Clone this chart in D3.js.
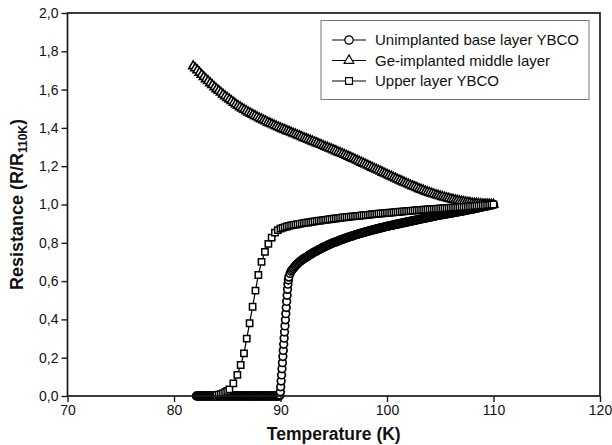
<!DOCTYPE html>
<html><head><meta charset="utf-8">
<script src="https://cdn.jsdelivr.net/npm/d3@7"></script>
<style>
body{margin:0;background:#fff}
svg{display:block}
text{font-family:"Liberation Sans",Arial,Helvetica,sans-serif;fill:#111}
</style>
</head><body>
<svg id="chart" width="612" height="445"></svg>
<script>
// ---------------- DATA ----------------
const xTicks = [70, 80, 90, 100, 110, 120];
const xTickLabels = ["70", "80", "90", "100", "110", "120"];
const yTicks = [0, 0.2, 0.4, 0.6, 0.8, 1.0, 1.2, 1.4, 1.6, 1.8, 2.0];
const yTickLabels = ["0,0", "0,2", "0,4", "0,6", "0,8", "1,0", "1,2", "1,4", "1,6", "1,8", "2,0"];
const seriesNames = ["Unimplanted base layer YBCO", "Ge-implanted middle layer", "Upper layer YBCO"];

// Unimplanted base layer YBCO (circles)
const circleT = [
  82.1,82.2,82.3,82.4,82.5,82.6,82.7,82.8,82.9,
  83.0,83.1,83.2,83.3,83.4,83.5,83.6,83.7,83.8,83.9,
  84.0,84.1,84.2,84.3,84.4,84.5,84.6,84.7,84.8,84.9,
  85.0,85.1,85.2,85.3,85.4,85.5,85.6,85.7,85.8,85.9,
  86.0,86.1,86.2,86.3,86.4,86.5,86.6,86.7,86.8,86.9,
  87.0,87.1,87.2,87.3,87.4,87.5,87.6,87.7,87.8,87.9,
  88.0,88.1,88.2,88.3,88.4,88.5,88.6,88.7,88.8,88.9,
  89.0,89.1,89.2,89.3,89.4,89.5,89.6,89.7,89.8,89.9,
  89.94,89.98,90.02,90.06,90.10,90.14,90.18,90.22,90.26,90.30,
  90.34,90.38,90.42,90.46,90.50,90.54,90.58,90.62,90.66,90.70,90.74,90.78,
  90.9,91.0,
  91.1,91.2,91.3,91.4,91.5,91.6,91.7,91.8,91.9,92.0,
  92.1,92.2,92.3,92.4,92.5,92.6,92.7,92.8,92.9,93.0,
  93.1,93.2,93.3,93.4,93.5,93.6,93.7,93.8,93.9,94.0,
  94.1,94.2,94.3,94.4,94.5,94.6,94.7,94.8,94.9,95.0,
  95.1,95.2,95.3,95.4,95.5,95.6,95.7,95.8,95.9,96.0,
  96.1,96.2,96.3,96.4,96.5,96.6,96.7,96.8,96.9,97.0,
  97.1,97.2,97.3,97.4,97.5,97.6,97.7,97.8,97.9,98.0,
  98.1,98.2,98.3,98.4,98.5,98.6,98.7,98.8,98.9,99.0,
  99.1,99.2,99.3,99.4,99.5,99.6,99.7,99.8,99.9,100.0,
  100.1,100.2,100.3,100.4,100.5,100.6,100.7,100.8,100.9,101.0,
  101.1,101.2,101.3,101.4,101.5,101.6,101.7,101.8,101.9,102.0,
  102.1,102.2,102.3,102.4,102.5,102.6,102.7,102.8,102.9,103.0,
  103.1,103.2,103.3,103.4,103.5,103.6,103.7,103.8,103.9,104.0,
  104.1,104.2,104.3,104.4,104.5,104.6,104.7,104.8,104.9,105.0,
  105.1,105.2,105.3,105.4,105.5,105.6,105.7,105.8,105.9,106.0,
  106.1,106.2,106.3,106.4,106.5,106.6,106.7,106.8,106.9,107.0,
  107.1,107.2,107.3,107.4,107.5,107.6,107.7,107.8,107.9,108.0,
  108.1,108.2,108.3,108.4,108.5,108.6,108.7,108.8,108.9,109.0,
  109.1,109.2,109.3,109.4,109.5,109.6,109.7,109.8,109.9,110.0
];
const circleR = [
  0,0,0,0,0,0,0,0,0,
  0,0,0,0,0,0,0,0,0,0,
  0,0,0,0,0,0,0,0,0,0,
  0,0,0,0,0,0,0,0,0,0,
  0,0,0,0,0,0,0,0,0,0,
  0,0,0,0,0,0,0,0,0,0,
  0,0,0,0,0,0,0,0,0,0,
  0,0,0,0,0,0,0,0,0,0,
  0.005,0.022,0.048,0.078,0.110,0.142,0.174,0.206,0.238,0.270,
  0.302,0.334,0.366,0.398,0.430,0.462,0.494,0.526,0.557,0.584,0.606,0.621,
  0.640,0.652,
  0.659,0.666,0.673,0.680,0.686,0.691,0.696,0.701,0.705,0.710,
  0.714,0.717,0.721,0.724,0.728,0.732,0.735,0.739,0.742,0.746,
  0.749,0.752,0.755,0.758,0.761,0.764,0.767,0.770,0.773,0.776,
  0.779,0.781,0.784,0.786,0.789,0.791,0.794,0.796,0.799,0.801,
  0.803,0.805,0.807,0.809,0.812,0.814,0.816,0.818,0.820,0.822,
  0.824,0.826,0.828,0.830,0.832,0.833,0.835,0.837,0.839,0.841,
  0.843,0.844,0.846,0.847,0.849,0.851,0.852,0.854,0.855,0.857,
  0.859,0.860,0.862,0.863,0.865,0.866,0.868,0.869,0.871,0.872,
  0.873,0.875,0.876,0.878,0.879,0.880,0.882,0.883,0.885,0.886,
  0.887,0.888,0.890,0.891,0.892,0.893,0.894,0.896,0.897,0.898,
  0.899,0.900,0.902,0.903,0.904,0.905,0.906,0.908,0.909,0.910,
  0.911,0.912,0.914,0.915,0.916,0.917,0.918,0.920,0.921,0.922,
  0.923,0.924,0.926,0.927,0.928,0.929,0.930,0.932,0.933,0.934,
  0.935,0.936,0.937,0.938,0.940,0.941,0.942,0.943,0.944,0.945,
  0.946,0.947,0.948,0.949,0.950,0.951,0.952,0.953,0.954,0.955,
  0.956,0.957,0.958,0.959,0.960,0.961,0.962,0.963,0.964,0.965,
  0.966,0.967,0.968,0.969,0.971,0.972,0.973,0.974,0.975,0.976,
  0.977,0.978,0.980,0.981,0.982,0.983,0.984,0.986,0.987,0.988,
  0.989,0.990,0.992,0.993,0.994,0.995,0.996,0.998,0.999,1.000
];

// Ge-implanted middle layer (triangles)
const triangleT = [
  81.8,82.0,
  82.2,82.4,82.6,82.8,83.0,
  83.2,83.4,83.6,83.8,84.0,
  84.2,84.4,84.6,84.8,85.0,
  85.2,85.4,85.6,85.8,86.0,
  86.2,86.4,86.6,86.8,87.0,
  87.2,87.4,87.6,87.8,88.0,
  88.2,88.4,88.6,88.8,89.0,
  89.2,89.4,89.6,89.8,90.0,
  90.2,90.4,90.6,90.8,91.0,
  91.2,91.4,91.6,91.8,92.0,
  92.2,92.4,92.6,92.8,93.0,
  93.2,93.4,93.6,93.8,94.0,
  94.2,94.4,94.6,94.8,95.0,
  95.2,95.4,95.6,95.8,96.0,
  96.2,96.4,96.6,96.8,97.0,
  97.2,97.4,97.6,97.8,98.0,
  98.2,98.4,98.6,98.8,99.0,
  99.2,99.4,99.6,99.8,100.0,
  100.2,100.4,100.6,100.8,101.0,
  101.2,101.4,101.6,101.8,102.0,
  102.2,102.4,102.6,102.8,103.0,
  103.2,103.4,103.6,103.8,104.0,
  104.2,104.4,104.6,104.8,105.0,
  105.2,105.4,105.6,105.8,106.0,
  106.2,106.4,106.6,106.8,107.0,
  107.2,107.4,107.6,107.8,108.0,
  108.2,108.4,108.6,108.8,109.0,
  109.2,109.4,109.6,109.8,110.0
];
const triangleR = [
  1.723,1.712,
  1.701,1.689,1.678,1.666,1.655,
  1.645,1.634,1.624,1.613,1.603,
  1.594,1.585,1.575,1.566,1.557,
  1.549,1.541,1.532,1.524,1.516,
  1.509,1.502,1.495,1.488,1.481,
  1.475,1.469,1.463,1.457,1.451,
  1.446,1.440,1.435,1.429,1.424,
  1.419,1.414,1.409,1.404,1.399,
  1.394,1.390,1.385,1.381,1.376,
  1.371,1.367,1.362,1.358,1.353,
  1.348,1.344,1.339,1.335,1.330,
  1.325,1.321,1.316,1.312,1.307,
  1.302,1.298,1.293,1.289,1.284,
  1.279,1.274,1.270,1.265,1.260,
  1.255,1.250,1.245,1.240,1.235,
  1.230,1.225,1.219,1.214,1.209,
  1.204,1.199,1.193,1.188,1.183,
  1.178,1.173,1.167,1.162,1.157,
  1.152,1.147,1.141,1.136,1.131,
  1.126,1.121,1.116,1.111,1.106,
  1.101,1.096,1.092,1.087,1.082,
  1.078,1.074,1.069,1.065,1.061,
  1.057,1.054,1.050,1.047,1.043,
  1.040,1.037,1.034,1.031,1.028,
  1.026,1.023,1.021,1.018,1.016,
  1.014,1.012,1.011,1.009,1.007,
  1.006,1.005,1.004,1.003,1.002,
  1.002,1.001,1.001,1.000,1.000
];

// Upper layer YBCO (squares)
const squareT = [
  84.0,84.2,84.4,84.6,84.8,85.0,
  85.2,85.57,85.95,86.26,86.57,86.83,87.1,87.38,87.65,87.92,
  88.22,88.54,88.86,89.17,89.48,89.75,
  90.0,
  90.2,90.4,90.6,90.8,91.0,
  91.2,91.4,91.6,91.8,92.0,
  92.2,92.4,92.6,92.8,93.0,
  93.2,93.4,93.6,93.8,94.0,
  94.2,94.4,94.6,94.8,95.0,
  95.2,95.4,95.6,95.8,96.0,
  96.2,96.4,96.6,96.8,97.0,
  97.2,97.4,97.6,97.8,98.0,
  98.2,98.4,98.6,98.8,99.0,
  99.2,99.4,99.6,99.8,100.0,
  100.2,100.4,100.6,100.8,101.0,
  101.2,101.4,101.6,101.8,102.0,
  102.2,102.4,102.6,102.8,103.0,
  103.2,103.4,103.6,103.8,104.0,
  104.2,104.4,104.6,104.8,105.0,
  105.2,105.4,105.6,105.8,106.0,
  106.2,106.4,106.6,106.8,107.0,
  107.2,107.4,107.6,107.8,108.0,
  108.2,108.4,108.6,108.8,109.0,
  109.2,109.4,109.6,109.8,110.0
];
const squareR = [
  0.005,0.007,0.010,0.014,0.020,0.027,
  0.035,0.066,0.110,0.162,0.223,0.300,0.380,0.466,0.550,0.632,
  0.700,0.753,0.794,0.827,0.853,0.866,
  0.874,
  0.878,0.882,0.885,0.888,0.891,
  0.893,0.895,0.897,0.899,0.901,
  0.903,0.905,0.906,0.908,0.910,
  0.912,0.913,0.915,0.916,0.918,
  0.920,0.921,0.923,0.924,0.926,
  0.927,0.929,0.930,0.932,0.933,
  0.934,0.935,0.937,0.938,0.939,
  0.940,0.941,0.943,0.944,0.945,
  0.946,0.947,0.949,0.950,0.951,
  0.952,0.953,0.954,0.955,0.956,
  0.957,0.958,0.959,0.960,0.961,
  0.962,0.963,0.964,0.965,0.966,
  0.967,0.968,0.969,0.970,0.971,
  0.972,0.973,0.973,0.974,0.975,
  0.976,0.977,0.977,0.978,0.979,
  0.980,0.981,0.981,0.982,0.983,
  0.984,0.985,0.985,0.986,0.987,
  0.988,0.989,0.989,0.990,0.991,
  0.992,0.993,0.993,0.994,0.995,
  0.996,0.997,0.998,0.999,1.000
];

// ---------------- DRAWING ----------------
const svg = d3.select("#chart");
const L = 67.5, R = 600, T = 13, B = 396;
const x = d3.scaleLinear().domain([70, 120]).range([L, R]);
const y = d3.scaleLinear().domain([0, 2]).range([B, T]);

const zip = (a, b) => a.map((v, i) => [v, b[i]]).filter(d => d[1] !== undefined);
const series = [
  {name: seriesNames[0], data: zip(circleT, circleR), sym: d3.symbolCircle, size: 46, sw: 1.7},
  {name: seriesNames[1], data: zip(triangleT, triangleR), sym: d3.symbolTriangle, size: 34, sw: 1.6},
  {name: seriesNames[2], data: zip(squareT, squareR), sym: d3.symbolSquare, size: 40, sw: 1.5}
];

const plot = svg.append("g");
const line = d3.line().x(d => x(d[0])).y(d => y(d[1]));
series.forEach(s => {
  const g = plot.append("g");
  g.append("path").datum(s.data).attr("d", line)
    .attr("fill", "none").attr("stroke", "#000").attr("stroke-width", 1.2);
  g.selectAll("path.m").data(s.data).join("path").attr("class", "m")
    .attr("d", d3.symbol().type(s.sym).size(s.size))
    .attr("transform", d => `translate(${x(d[0])},${y(d[1])})`)
    .attr("fill", "#fff").attr("stroke", "#000").attr("stroke-width", s.sw);
});

// frame
svg.append("rect").attr("x", L).attr("y", T).attr("width", R - L).attr("height", B - T)
  .attr("fill", "none").attr("stroke", "#1a1a1a").attr("stroke-width", 1.7);

// x axis
const xAxis = d3.axisBottom(x).tickValues(xTicks).tickSize(6).tickPadding(3)
  .tickFormat((d, i) => xTickLabels[i]);
const gx = svg.append("g").attr("transform", `translate(0,${B})`).call(xAxis);
gx.select(".domain").remove();
gx.selectAll(".tick line").attr("stroke", "#1a1a1a").attr("stroke-width", 1.4);
gx.selectAll(".tick text").attr("font-size", 14).attr("fill", "#111")
  .attr("font-family", '"Liberation Sans",Arial,sans-serif');

// y axis
const yAxis = d3.axisLeft(y).tickValues(yTicks).tickSize(6).tickPadding(3)
  .tickFormat((d, i) => yTickLabels[i]);
const gy = svg.append("g").attr("transform", `translate(${L},0)`).call(yAxis);
gy.select(".domain").remove();
gy.selectAll(".tick line").attr("stroke", "#1a1a1a").attr("stroke-width", 1.4);
gy.selectAll(".tick text").attr("font-size", 14).attr("fill", "#111")
  .attr("font-family", '"Liberation Sans",Arial,sans-serif');

// axis titles
svg.append("text").attr("x", (L + R) / 2).attr("y", 440).attr("text-anchor", "middle")
  .attr("font-size", 17.5).attr("font-weight", "bold").text("Temperature (K)");

const yt = svg.append("text").attr("transform", `translate(23,${(T + B) / 2}) rotate(-90)`)
  .attr("text-anchor", "middle").attr("font-size", 18).attr("font-weight", "bold");
yt.append("tspan").text("Resistance (R/R");
yt.append("tspan").attr("font-size", 12).attr("dy", 4).text("110K");
yt.append("tspan").attr("dy", -4).text(")");

// legend
const lg = svg.append("g");
lg.append("rect").attr("x", 321).attr("y", 20.5).attr("width", 268).attr("height", 79)
  .attr("fill", "#fff").attr("stroke", "#777").attr("stroke-width", 1);
const rowsY = [40, 60.5, 81];
series.forEach((s, i) => {
  const yy = rowsY[i];
  lg.append("line").attr("x1", 332).attr("x2", 366).attr("y1", yy).attr("y2", yy)
    .attr("stroke", "#000").attr("stroke-width", 1.2);
  lg.append("path").attr("d", d3.symbol().type(s.sym).size(s.size * 1.2))
    .attr("transform", `translate(349,${yy})`)
    .attr("fill", "#fff").attr("stroke", "#000").attr("stroke-width", 1.2);
  lg.append("text").attr("x", 375).attr("y", yy + 5.3).attr("font-size", 15).text(s.name);
});
</script>
</body></html>
